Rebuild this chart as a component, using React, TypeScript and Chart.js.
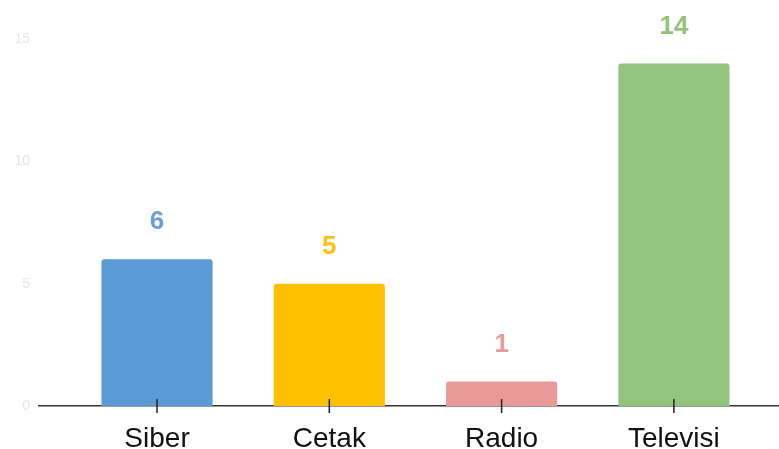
import React, { useEffect, useRef } from "react";
import { Chart, registerables } from "chart.js";

Chart.register(...registerables);

const categories = ["Siber", "Cetak", "Radio", "Televisi"];
const values = [6, 5, 1, 14];
const barColors = ["#5b9bd5", "#ffc000", "#ea9999", "#93c47d"];
const labelColors = ["#6a9fd6", "#ffc20e", "#e99a9a", "#93c47d"];
const yTicks = [0, 5, 10, 15];

const valueLabelPlugin = {
  id: "valueLabels",
  afterDatasetsDraw(chart: any) {
    const ctx = chart.ctx;
    const meta = chart.getDatasetMeta(0);
    ctx.save();
    ctx.font = "bold 26px 'Liberation Sans', Arial, sans-serif";
    ctx.textAlign = "center";
    ctx.textBaseline = "middle";
    meta.data.forEach((el: any, i: number) => {
      ctx.fillStyle = labelColors[i];
      ctx.fillText(String(values[i]), el.x, el.y - 37);
    });
    ctx.restore();
  },
};

const tickMarkPlugin = {
  id: "tickMarks",
  afterDraw(chart: any) {
    const ctx = chart.ctx;
    const xs = chart.scales.x;
    const bottom = chart.chartArea.bottom;
    ctx.save();
    ctx.strokeStyle = "#222";
    ctx.lineWidth = 1.5;
    categories.forEach((_, i) => {
      const px = xs.getPixelForValue(i);
      ctx.beginPath();
      ctx.moveTo(px, bottom - 7);
      ctx.lineTo(px, bottom + 7);
      ctx.stroke();
    });
    ctx.restore();
  },
};

export default function App() {
  const ref = useRef<HTMLCanvasElement | null>(null);

  useEffect(() => {
    if (!ref.current) return;
    const chart = new Chart(ref.current, {
      type: "bar",
      data: {
        datasets: [
          {
            data: values.map((v, i) => ({ x: i, y: v })),
            backgroundColor: barColors,
            borderRadius: 3,
            barPercentage: 0.645,
            categoryPercentage: 1,
          },
        ],
      },
      options: {
        animation: false,
        responsive: false,
        maintainAspectRatio: false,
        layout: { padding: { top: 39, right: 0, bottom: 0, left: 0 } },
        plugins: { legend: { display: false }, tooltip: { enabled: false } },
        scales: {
          x: {
            type: "linear",
            offset: false,
            min: -0.685,
            max: 3.61,
            afterBuildTicks: (scale: any) => {
              scale.ticks = categories.map((_, i) => ({ value: i }));
            },
            afterFit: (scale: any) => {
              scale.height = 43;
            },
            grid: { display: false, drawTicks: false, offset: false },
            border: { display: true, color: "#333", width: 1.5 },
            ticks: {
              autoSkip: false,
              maxRotation: 0,
              padding: 16,
              color: "#111",
              font: { family: "'Liberation Sans', Arial, sans-serif", size: 28 },
              callback: (v: any) => categories[v as number] ?? "",
            },
          },
          y: {
            min: 0,
            max: 15,
            afterBuildTicks: (scale: any) => {
              scale.ticks = yTicks.map((v) => ({ value: v }));
            },
            afterFit: (scale: any) => {
              scale.width = 39;
            },
            grid: { display: false, drawTicks: false },
            border: { display: false },
            ticks: {
              padding: 9,
              color: "#e6e6e6",
              font: { family: "'Liberation Sans', Arial, sans-serif", size: 14 },
            },
          },
        },
      },
      plugins: [valueLabelPlugin, tickMarkPlugin],
    } as any);
    return () => chart.destroy();
  }, []);

  return (
    <div style={{ position: "fixed", left: 0, top: 0, width: 779, height: 449, background: "#fff" }}>
      <canvas ref={ref} width={779} height={449} style={{ width: 779, height: 449, display: "block" }} />
    </div>
  );
}
